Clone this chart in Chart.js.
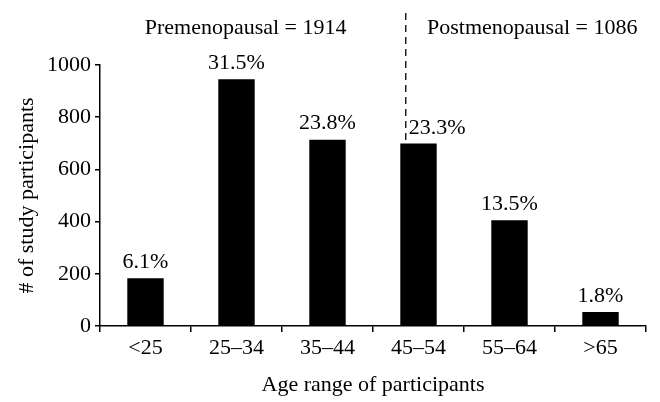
<!DOCTYPE html>
<html>
<head>
<meta charset="utf-8">
<script src="https://cdn.jsdelivr.net/npm/chart.js@4"></script>
<style>
  html, body { margin: 0; padding: 0; background: #fff; }
  #wrap { width: 660px; height: 402px; }
</style>
</head>
<body>
<div id="wrap"><canvas id="barChart" width="660" height="402"></canvas></div>
<script>
var ageRanges = ['<25', '25\u201334', '35\u201344', '45\u201354', '55\u201364', '>65'];
var participants = [183, 945, 714, 699, 405, 54];
var percentLabels = ['6.1%', '31.5%', '23.8%', '23.3%', '13.5%', '1.8%'];
var yTicks = [0, 200, 400, 600, 800, 1000];
var groupLabels = ['Premenopausal = 1914', 'Postmenopausal = 1086'];

var serif = "'Liberation Serif', 'Times New Roman', serif";
Chart.defaults.font.family = serif;
Chart.defaults.color = '#000';

// percentages above bars, dashed split line and the two group captions
var annotations = {
    id: 'annotations',
    afterDatasetsDraw: function(chart) {
        var c = chart.ctx;
        var meta = chart.getDatasetMeta(0);
        var xs = chart.scales.x;
        var split = xs.getPixelForValue(3) - xs.width / ageRanges.length * 0.14;

        c.save();
        c.fillStyle = '#000';
        c.font = '22px ' + serif;
        c.textBaseline = 'bottom';
        meta.data.forEach(function(bar, i) {
            if (i === 3) {
                c.textAlign = 'left';
                c.fillText(percentLabels[i], split + 3, bar.y - 4);
            } else {
                c.textAlign = 'center';
                c.fillText(percentLabels[i], bar.x, bar.y - 5);
            }
        });

        // dashed divider
        c.strokeStyle = '#000';
        c.lineWidth = 1.3;
        c.setLineDash([7, 5]);
        c.beginPath();
        c.moveTo(split, 13);
        c.lineTo(split, meta.data[3].y);
        c.stroke();
        c.setLineDash([]);

        c.textAlign = 'center';
        c.textBaseline = 'middle';
        c.fillText(groupLabels[0], xs.getPixelForValue(1.1), 28);
        c.fillText(groupLabels[1], xs.getPixelForValue(4.25), 28);
        c.restore();
    }
};

var ctx = document.getElementById('barChart').getContext('2d');
var barChart = new Chart(ctx, {
    type: 'bar',
    data: {
        labels: ageRanges,
        datasets: [{
            data: participants,
            backgroundColor: '#000',
            borderWidth: 0,
            categoryPercentage: 0.8,
            barPercentage: 0.5
        }]
    },
    options: {
        responsive: false,
        animation: false,
        devicePixelRatio: 1,
        layout: {
            padding: { left: 0, right: 14, top: 65, bottom: 0 }
        },
        plugins: {
            legend: { display: false },
            tooltip: { enabled: false }
        },
        scales: {
            x: {
                grid: { drawOnChartArea: false, drawTicks: true, tickLength: 6, color: '#000', lineWidth: 1.5 },
                border: { color: '#000', width: 1.5 },
                ticks: { color: '#000', font: { size: 22 }, padding: 3 },
                title: { display: true, text: 'Age range of participants', color: '#000', font: { size: 22 }, padding: { top: 2 } },
                afterFit: function(scale) { scale.height = 76; }
            },
            y: {
                min: 0,
                max: 1000,
                afterBuildTicks: function(scale) {
                    scale.ticks = yTicks.map(function(v) { return { value: v }; });
                },
                grid: { drawOnChartArea: false, drawTicks: true, tickLength: 5, color: '#000', lineWidth: 1.5 },
                border: { color: '#000', width: 1.5 },
                ticks: {
                    color: '#000',
                    font: { size: 22 },
                    padding: 4,
                    callback: function(v) { return String(v); }
                },
                title: { display: true, text: '# of study participants', color: '#000', font: { size: 22 }, padding: { top: 14, bottom: 4 } },
                afterFit: function(scale) { scale.width = 100; }
            }
        }
    },
    plugins: [annotations]
});
</script>
</body>
</html>
